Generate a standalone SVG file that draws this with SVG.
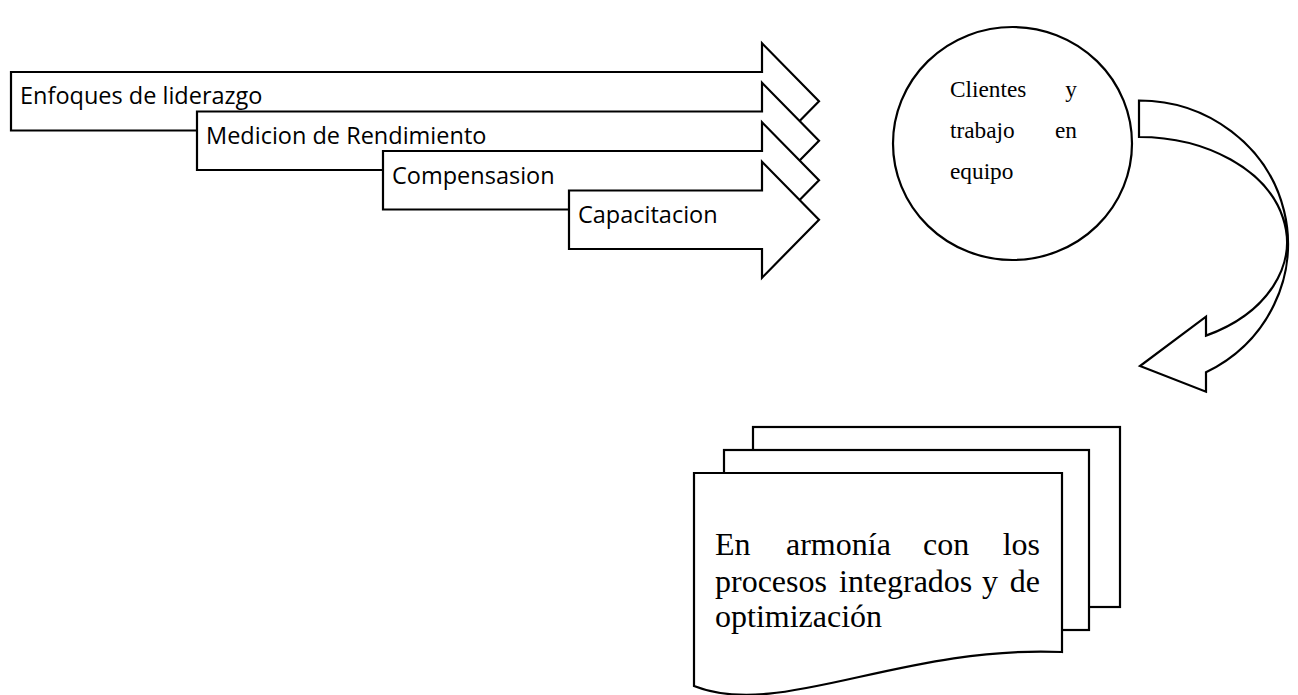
<svg xmlns="http://www.w3.org/2000/svg" width="1298" height="695" viewBox="0 0 1298 695">
<style>
.shape{fill:#fff;stroke:#000;stroke-width:2.2;stroke-linejoin:miter}
.sans{font-family:"Open Sans","Liberation Sans",sans-serif;font-size:23.5px;fill:#000}
.serif{font-family:"Liberation Serif","Times New Roman",serif;fill:#000}
.c{font-size:23.3px}
.d{font-size:32px}
</style>
<rect width="1298" height="695" fill="#fff"/>
<g id="arrow-enfoques">
<polygon class="shape" points="11,72 762,72 762,43.3 819,101.25 762,159.2 762,130.5 11,130.5"/>
<text class="sans" x="20" y="104">Enfoques de liderazgo</text>
</g>
<g id="arrow-medicion">
<polygon class="shape" points="197,111.5 762,111.5 762,82.8 819,140.75 762,198.7 762,170 197,170"/>
<text class="sans" x="206" y="144">Medicion de Rendimiento</text>
</g>
<g id="arrow-compensasion">
<polygon class="shape" points="383,151 762,151 762,122.3 819,180.25 762,238.2 762,209.5 383,209.5"/>
<text class="sans" x="392" y="183.5">Compensasion</text>
</g>
<g id="arrow-capacitacion">
<polygon class="shape" points="569,190.5 762,190.5 762,161.8 819,219.75 762,277.7 762,249 569,249"/>
<text class="sans" x="578" y="222.5">Capacitacion</text>
</g>
<g id="circle-clientes">
<ellipse class="shape" cx="1012.5" cy="143.5" rx="119.5" ry="116.5"/>
<text class="serif c" y="96.7"><tspan x="950">Clientes</tspan><tspan x="1077" text-anchor="end">y</tspan></text>
<text class="serif c" y="138.3"><tspan x="950">trabajo</tspan><tspan x="1077" text-anchor="end">en</tspan></text>
<text class="serif c" x="950" y="179">equipo</text>
</g>
<g id="connectors">
<path class="shape" d="M1139,100.5 L1139,137 A148,105 0 0 1 1206,335.6 L1206,316.7 L1140,366 L1206,391.7 L1206,372.2 A149,143.5 0 0 0 1139,100.5 Z"/>
</g>
<g id="documents">
<rect class="shape" x="753" y="427" width="367" height="180"/>
<rect class="shape" x="724" y="450" width="365" height="180"/>
<path class="shape" d="M694,473 L1062,473 L1062,652 C900,645 780,720 694,686 Z"/>
<text class="serif d" y="555"><tspan x="715">En</tspan><tspan x="786">armonía</tspan><tspan x="923">con</tspan><tspan x="1040" text-anchor="end">los</tspan></text>
<text class="serif d" y="591.7"><tspan x="715">procesos</tspan><tspan x="839">integrados</tspan><tspan x="982">y</tspan><tspan x="1040" text-anchor="end">de</tspan></text>
<text class="serif d" x="715" y="626.7">optimización</text>
</g>
</svg>
